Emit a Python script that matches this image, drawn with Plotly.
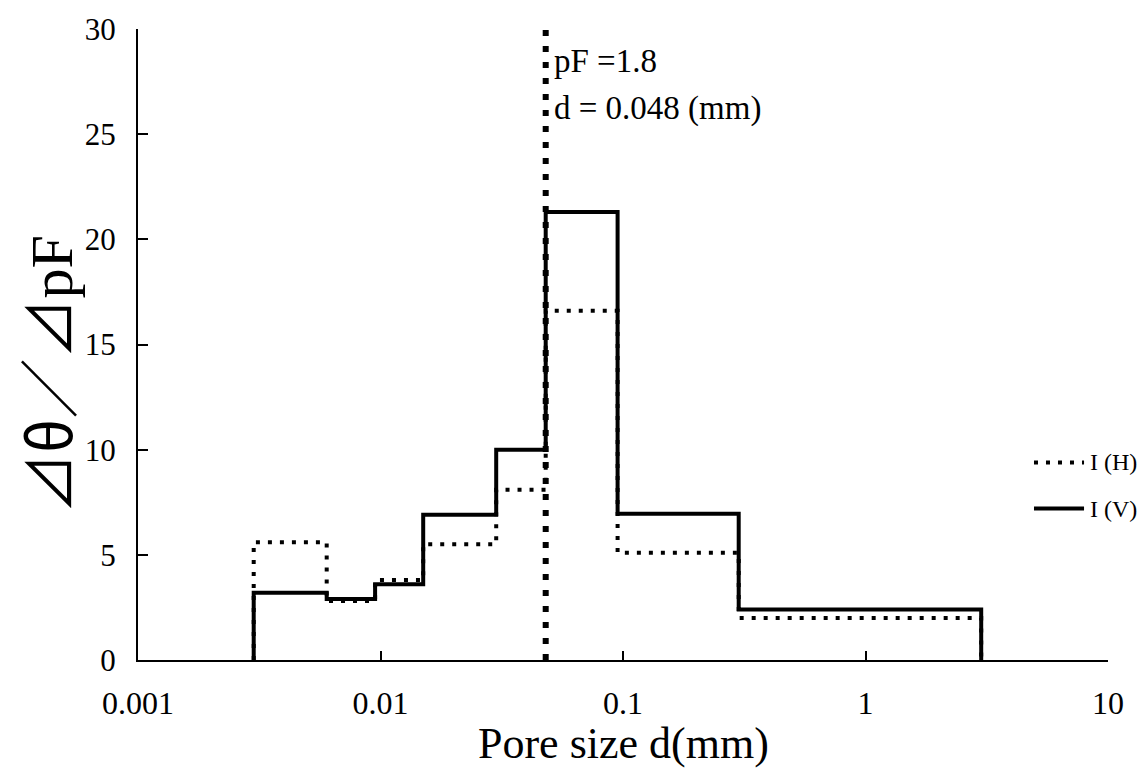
import math
import plotly.graph_objects as go

# Pore-size class boundaries (mm) and water-release per class
bin_edges = [0.003, 0.006, 0.0095, 0.015, 0.03, 0.048, 0.095, 0.3, 3]
h_values = [5.6, 2.8, 3.8, 5.5, 8.1, 16.6, 5.1, 2.0]
v_values = [3.2, 2.9, 3.6, 6.9, 10.0, 21.3, 6.95, 2.4]
series_names = ["I (H)", "I (V)"]

# Reference line at pF 1.8
pf_d = 0.048
pf_text = ["pF =1.8", "d = 0.048 (mm)"]

x_ticks = [0.001, 0.01, 0.1, 1, 10]
x_tick_text = ["0.001", "0.01", "0.1", "1", "10"]
y_ticks = [0, 5, 10, 15, 20, 25, 30]

FONT = "Liberation Serif, Times New Roman, serif"
CJK = "Noto Sans CJK JP"

SOLID = dict(color="black", width=4)
DOTTED = dict(color="black", width=4, dash="4px,8px")


def step_path(edges, values):
    xs = [edges[0]] + list(edges) + [edges[-1]]
    ys = [0] + list(values) + [values[-1], 0]
    return xs, ys


fig = go.Figure()

vx, vy = step_path(bin_edges, v_values)
hx, hy = step_path(bin_edges, h_values)

fig.add_trace(go.Scatter(x=vx, y=vy, mode="lines", line_shape="hv",
                         name=series_names[1], line=SOLID, showlegend=False))
fig.add_trace(go.Scatter(x=hx, y=hy, mode="lines", line_shape="hv",
                         name=series_names[0], line=DOTTED, showlegend=False))
fig.add_trace(go.Scatter(x=[pf_d, pf_d], y=[0, 30], mode="lines", showlegend=False,
                         line=dict(color="black", width=6, dash="6px,10px")))

# pF annotation next to the reference line
for text, yv in zip(pf_text, [28.5, 26.2]):
    fig.add_annotation(x=math.log10(pf_d), xref="x", y=yv, yref="y", text=text,
                       showarrow=False, xanchor="left", yanchor="middle", xshift=6,
                       font=dict(family=FONT, size=33, color="black"))

# Legend (drawn by hand so the line samples are full length)
legend_rows = [(series_names[0], DOTTED, 0.313), (series_names[1], SOLID, 0.240)]
for name, style, yp in legend_rows:
    fig.add_shape(type="line", xref="paper", yref="paper",
                  x0=0.9237, x1=0.9753, y0=yp, y1=yp,
                  line=dict(color=style["color"], width=style["width"],
                            dash=style.get("dash", "solid")))
    fig.add_annotation(x=0.979, xref="paper", y=yp, yref="paper", text=name,
                       showarrow=False, xanchor="left", yanchor="middle",
                       font=dict(family=FONT, size=24, color="black"))

# Axis titles
fig.add_annotation(x=0.5, xref="paper", y=0, yref="paper", yshift=-83,
                   text="Pore size d(mm)", showarrow=False,
                   xanchor="center", yanchor="middle",
                   font=dict(family=FONT, size=44, color="black"))
fig.add_annotation(x=0, xref="paper", y=0.5, yref="paper", xshift=-93, yshift=-30,
                   text=f"<span style='font-family:{CJK}'>⊿θ／⊿</span>pF",
                   textangle=-90, showarrow=False,
                   xanchor="center", yanchor="middle",
                   font=dict(family=FONT, size=60, color="black"))

fig.update_layout(
    width=1140, height=769,
    margin=dict(l=138, r=32, t=27, b=109),
    paper_bgcolor="white", plot_bgcolor="white",
    font=dict(family=FONT, color="black"),
    showlegend=False,
    xaxis=dict(
        type="log", range=[-3, 1],
        tickvals=x_ticks, ticktext=x_tick_text,
        ticks="inside", ticklen=9, tickwidth=1.5, tickcolor="black",
        showline=True, linecolor="black", linewidth=2,
        showgrid=False, zeroline=False, ticklabelstandoff=14,
        tickfont=dict(family=FONT, size=32, color="black"),
    ),
    yaxis=dict(
        range=[0, 30], tickvals=y_ticks,
        ticks="inside", ticklen=10, tickwidth=1.5, tickcolor="black",
        showline=True, linecolor="black", linewidth=2,
        showgrid=False, zeroline=False, ticklabelstandoff=14,
        tickfont=dict(family=FONT, size=31, color="black"),
    ),
)

fig.write_html("out.html")
